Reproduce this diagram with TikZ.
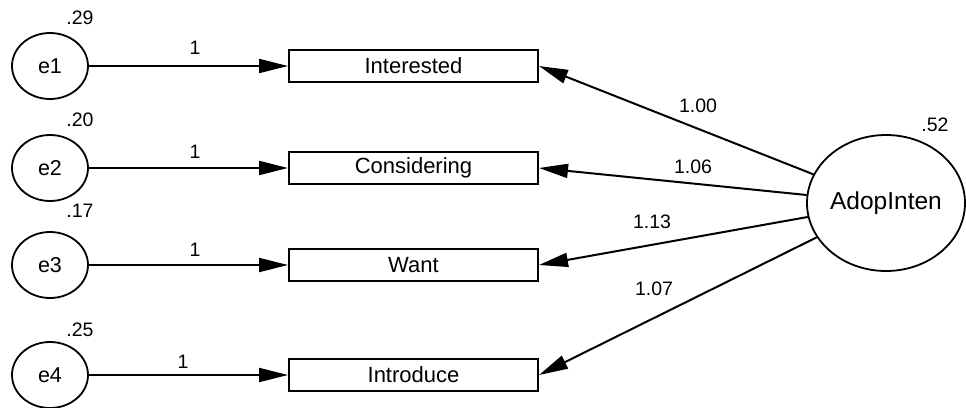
\documentclass[tikz,border=0pt]{standalone}
\usepackage{fontspec}
\setmainfont{Liberation Sans}
\usetikzlibrary{arrows.meta,shapes.geometric}
\begin{document}
\begin{tikzpicture}[x=1pt,y=-1pt,
  errvar/.style={draw, line width=1.8pt, ellipse, minimum width=76pt, minimum height=66pt,
    inner sep=0pt, font=\fontsize{21.5}{21}\selectfont},
  indicator/.style={draw, line width=2pt, rectangle, minimum width=249pt, minimum height=32pt,
    inner sep=0pt, font=\fontsize{22}{22}\selectfont},
  latent/.style={draw, line width=1.8pt, ellipse, minimum width=158pt, minimum height=136pt,
    inner sep=0pt, font=\fontsize{24.5}{24}\selectfont},
  regpath/.style={line width=2pt, -{Triangle[length=29pt,width=14pt]}},
  est/.style={font=\fontsize{19.5}{19}\selectfont, inner sep=0pt}]
  \useasboundingbox (0,0) rectangle (966,407);

  % error terms
  \node[errvar] (e1) at (50,66) {e1};
  \node[errvar] (e2) at (50,168) {e2};
  \node[errvar] (e3) at (50,265) {e3};
  \node[errvar] (e4) at (50,375) {e4};

  % observed indicators
  \node[indicator] (int) at (413.5,66) {Interested};
  \node[indicator] (con) at (413.5,168) {Considering};
  \node[indicator] (wan) at (413.5,265) {Want};
  \node[indicator] (itr) at (413.5,375) {Introduce};

  % latent factor
  \node[latent] (ai) at (886,203) {AdopInten};

  % error paths
  \draw[regpath] (e1) -- (int.west);
  \draw[regpath] (e2) -- (con.west);
  \draw[regpath] (e3) -- (wan.west);
  \draw[regpath] (e4) -- (itr.west);

  % factor loadings
  \draw[regpath] (ai) -- (int.east);
  \draw[regpath] (ai) -- (con.east);
  \draw[regpath] (ai) -- (wan.east);
  \draw[regpath] (ai) -- (itr.east);

  % variances
  \node[est] (v1) at (80,18) {.29};
  \node[est] (v2) at (80,120) {.20};
  \node[est] (v3) at (80,211) {.17};
  \node[est] (v4) at (80,330) {.25};
  \node[est] (v5) at (935,125) {.52};

  % fixed weights
  \node[est] (w1) at (195,48) {1};
  \node[est] (w2) at (195,152) {1};
  \node[est] (w3) at (195,250) {1};
  \node[est] (w4) at (183,362) {1};

  % estimated loadings
  \node[est] (l1) at (698,106) {1.00};
  \node[est] (l2) at (693,167) {1.06};
  \node[est] (l3) at (652,222) {1.13};
  \node[est] (l4) at (654,289) {1.07};
\end{tikzpicture}
\end{document}
